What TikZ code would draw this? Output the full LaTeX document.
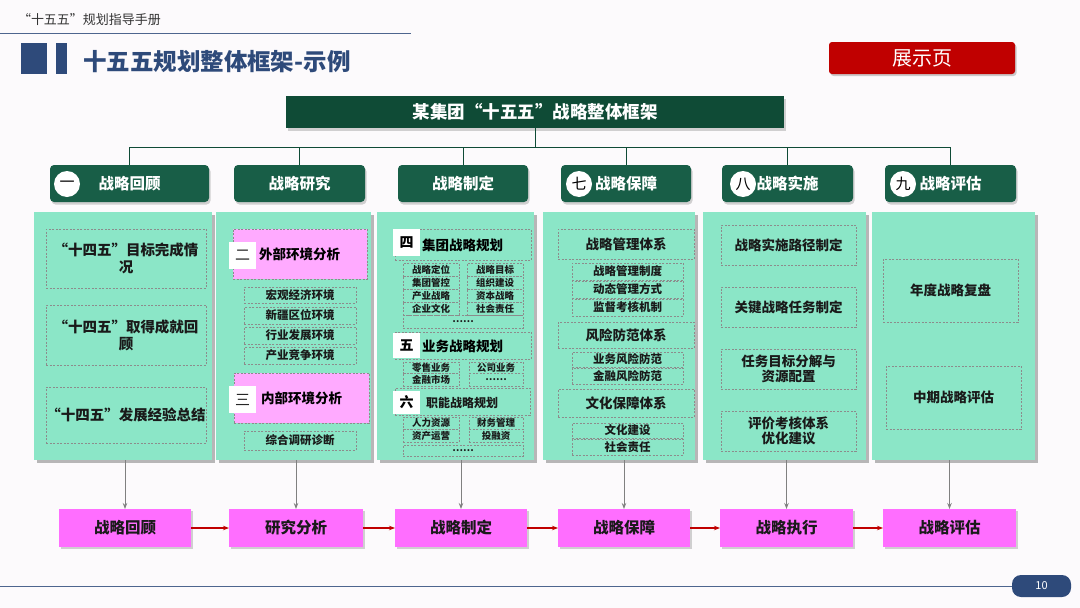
\documentclass[tikz,border=0pt]{standalone}
\usepackage{fontspec}
\setmainfont{Noto Sans CJK SC}
\usetikzlibrary{shadows,arrows.meta}
\definecolor{navy}{HTML}{2E4A7A}
\definecolor{hdr}{HTML}{185E47}
\definecolor{ttl}{HTML}{0F4B36}
\definecolor{pan}{HTML}{8BE6C7}
\definecolor{pk}{HTML}{FFAAFF}
\definecolor{pkb}{HTML}{FF6EFF}
\definecolor{redb}{HTML}{C00000}
\definecolor{txt}{HTML}{1A1A1A}
\definecolor{bg}{HTML}{FCFAFC}
\newcommand\fsz[2]{\fontsize{#1}{#2}\selectfont}
\newcommand\bx[7]{\node[#6, minimum width={(#4-#2)*1pt}, minimum height={(#5-#3)*1pt}] (#1) at ({(#2+#4)/2},{(#3+#5)/2}) {#7};}
\begin{document}
\begin{tikzpicture}[x=1pt,y=-1pt,
  every node/.style={inner sep=0pt, outer sep=0pt, align=center},
  hdrbox/.style={fill=hdr, rounded corners=4pt, drop shadow={opacity=0.35,shadow xshift=1.5pt,shadow yshift=-2.5pt}, text=white, font=\fsz{15.5}{18}\bfseries},
  ttlbox/.style={fill=ttl, drop shadow={opacity=0.35,shadow xshift=1.5pt,shadow yshift=-2.5pt}, text=white, font=\fsz{17.5}{20}\bfseries},
  panel/.style={fill=pan, drop shadow={fill=black!55, opacity=0.5, shadow xshift=2.5pt, shadow yshift=-2.5pt}},
  dbox/.style={draw=black!45, dashed, dash pattern=on 2pt off 1.5pt, line width=0.5pt, text=txt},
  pinkbox/.style={dbox, fill=pk},
  sq/.style={fill=white, text=black, font=\fsz{14}{14}\bfseries},
  sqlight/.style={fill=white, text=black!85, font=\fsz{15}{15}},
  big/.style={font=\fsz{14.5}{17}\bfseries},
  mid/.style={font=\fsz{13.5}{15.5}\bfseries},
  sml/.style={font=\fsz{11.5}{12}\bfseries},
  tiny/.style={font=\fsz{9.5}{10}\bfseries},
  numc/.style={circle, fill=white, text=black, minimum size=26pt, font=\fsz{15}{15}},
  btm/.style={fill=pkb, text=txt, font=\fsz{15.5}{17}\bfseries, drop shadow={opacity=0.35,shadow xshift=1.5pt,shadow yshift=-2pt}},
  tree/.style={draw=ttl, line width=0.9pt},
  garrow/.style={draw=black!50, line width=1pt, -{Stealth[length=6pt,width=4.5pt]}},
  rarrow/.style={draw=redb, line width=1.2pt, -{Stealth[length=6pt,width=4.5pt]}}
]
\useasboundingbox (0,0) rectangle (1080,608);
\fill[bg] (0,0) rectangle (1080,608);

% page header
\node[anchor=west, text=black!80, font=\fsz{13}{13}] (book) at (18,20) {“十五五”规划指导手册};
\coordinate (hl0) at (0,33);
\coordinate (hl1) at (411,33);
\draw[navy!85, line width=1pt] (hl0) -- (hl1);
\bx{sqa}{21}{43}{47}{74}{fill=navy}{}
\bx{sqb}{56}{43}{67}{74}{fill=navy}{}
\node[anchor=west, text=navy, font=\fsz{23.5}{24}\bfseries] (maint) at (83,62) {十五五规划整体框架-示例};
\bx{show}{829}{42}{1015}{74}{fill=redb, rounded corners=3pt, text=white, font=\fsz{20}{20}, drop shadow={opacity=0.4,shadow xshift=1.5pt,shadow yshift=-2pt}}{展示页}

% title and headers
\bx{title}{286}{96}{784}{128}{ttlbox}{某集团“十五五”战略整体框架}
\bx{h1}{50}{165}{209}{202}{hdrbox}{战略回顾}
\bx{h2}{234}{165}{365}{202}{hdrbox}{战略研究}
\bx{h3}{398}{165}{528}{202}{hdrbox}{战略制定}
\bx{h4}{561}{165}{691}{202}{hdrbox}{战略保障}
\bx{h5}{722}{165}{853}{202}{hdrbox}{战略实施}
\bx{h6}{885}{165}{1016}{202}{hdrbox}{战略评估}
\node[numc] (c1) at (67,184) {一};
\node[numc] (c4) at (579,184) {七};
\node[numc] (c5) at (743,184) {八};
\node[numc] (c6) at (903,184) {九};
\foreach \h in {h1,h2,h3,h4,h5,h6}{\draw[tree] (title.south) -- ++(0,19) -| (\h.north);}

% panels
\bx{p1}{34}{212}{212}{460}{panel}{}
\bx{p2}{216}{212}{371}{460}{panel}{}
\bx{p3}{377}{212}{534}{460}{panel}{}
\bx{p4}{543}{212}{695}{460}{panel}{}
\bx{p5}{703}{212}{866}{460}{panel}{}
\bx{p6}{872}{212}{1035}{460}{panel}{}

% panel 1
\bx{a1}{46}{229}{206}{288}{dbox,big}{“十四五”目标完成情\\况}
\bx{a2}{46}{305}{206}{365}{dbox,big}{“十四五”取得成就回\\顾}
\bx{a3}{46}{387}{206}{443}{dbox,big}{“十四五”发展经验总结}

% panel 2
\bx{ext}{233}{229}{367}{279}{pinkbox}{}
\bx{sq2}{229}{242}{256}{269}{sqlight}{二}
\node[anchor=west, mid] (extt) at (259,254) {外部环境分析};
\bx{e1}{244}{287}{356}{303}{dbox,sml}{宏观经济环境}
\bx{e2}{244}{307}{356}{324}{dbox,sml}{新疆区位环境}
\bx{e3}{244}{327}{356}{344}{dbox,sml}{行业发展环境}
\bx{e4}{244}{347}{356}{364}{dbox,sml}{产业竞争环境}
\bx{int}{234}{373}{369}{423}{pinkbox}{}
\bx{sq3}{229}{386}{256}{413}{sqlight}{三}
\node[anchor=west, mid] (intt) at (261,398) {内部环境分析};
\bx{i1}{244}{431}{356}{450}{dbox,sml}{综合调研诊断}

% panel 3
\bx{g4}{395}{229}{531}{260}{dbox}{}
\bx{sq4}{393}{229}{420}{256}{sq}{四}
\node[anchor=west, mid] (g4t) at (422,245) {集团战略规划};
\bx{ga1}{403}{263}{459}{276}{dbox,tiny}{战略定位}
\bx{gb1}{467}{263}{523}{276}{dbox,tiny}{战略目标}
\bx{ga2}{403}{276}{459}{289}{dbox,tiny}{集团管控}
\bx{gb2}{467}{276}{523}{289}{dbox,tiny}{组织建设}
\bx{ga3}{403}{289}{459}{302}{dbox,tiny}{产业战略}
\bx{gb3}{467}{289}{523}{302}{dbox,tiny}{资本战略}
\bx{ga4}{403}{302}{459}{315}{dbox,tiny}{企业文化}
\bx{gb4}{467}{302}{523}{315}{dbox,tiny}{社会责任}
\bx{gd}{403}{315}{523}{328}{dbox,tiny}{……}
\bx{g5}{395}{332}{531}{359}{dbox}{}
\bx{sq5}{393}{333}{420}{358}{sq}{五}
\node[anchor=west, mid] (g5t) at (422,346) {业务战略规划};
\bx{ya1}{403}{362}{459}{373}{dbox,tiny}{零售业务}
\bx{yb1}{469}{362}{523}{373}{dbox,tiny}{公司业务}
\bx{ya2}{403}{373}{459}{386}{dbox,tiny}{金融市场}
\bx{yb2}{469}{373}{523}{386}{dbox,tiny}{……}
\bx{g6}{395}{388}{530}{415}{dbox}{}
\bx{sq6}{393}{391}{420}{414}{sq}{六}
\node[anchor=west, font=\fsz{12}{12}\bfseries, text=txt] (g6t) at (426,403) {职能战略规划};
\bx{za1}{403}{417}{459}{429}{dbox,tiny}{人力资源}
\bx{zb1}{469}{417}{523}{429}{dbox,tiny}{财务管理}
\bx{za2}{403}{429}{459}{442}{dbox,tiny}{资产运营}
\bx{zb2}{469}{429}{523}{442}{dbox,tiny}{投融资}
\bx{zd}{403}{445}{523}{456}{dbox,tiny}{……}

% panel 4
\bx{s1}{558}{229}{694}{259}{dbox,mid}{战略管理体系}
\bx{s11}{572}{263}{683}{280}{dbox,sml}{战略管理制度}
\bx{s12}{572}{281}{683}{298}{dbox,sml}{动态管理方式}
\bx{s13}{572}{299}{683}{316}{dbox,sml}{监督考核机制}
\bx{s2}{558}{322}{694}{348}{dbox,mid}{风险防范体系}
\bx{s21}{572}{352}{683}{367}{dbox,sml}{业务风险防范}
\bx{s22}{572}{368}{683}{384}{dbox,sml}{金融风险防范}
\bx{s3}{558}{389}{694}{417}{dbox,mid}{文化保障体系}
\bx{s31}{572}{423}{683}{438}{dbox,sml}{文化建设}
\bx{s32}{572}{439}{683}{455}{dbox,sml}{社会责任}

% panel 5
\bx{t1}{721}{225}{856}{265}{dbox,mid}{战略实施路径制定}
\bx{t2}{721}{287}{856}{327}{dbox,mid}{关键战略任务制定}
\bx{t3}{721}{349}{856}{389}{dbox,mid}{任务目标分解与\\资源配置}
\bx{t4}{721}{411}{856}{451}{dbox,mid}{评价考核体系\\优化建议}

% panel 6
\bx{v1}{883}{259}{1018}{322}{dbox,mid}{年度战略复盘}
\bx{v2}{886}{366}{1021}{429}{dbox,mid}{中期战略评估}

% bottom flow
\bx{b1}{59}{509}{191}{547}{btm}{战略回顾}
\bx{b2}{229}{509}{363}{547}{btm}{研究分析}
\bx{b3}{395}{509}{527}{547}{btm}{战略制定}
\bx{b4}{558}{509}{690}{547}{btm}{战略保障}
\bx{b5}{720}{509}{853}{547}{btm}{战略执行}
\bx{b6}{883}{509}{1016}{547}{btm}{战略评估}
\foreach \i in {1,...,6}{\draw[garrow] (p\i.south -| b\i.north) -- (b\i.north);}
\draw[rarrow] (b1) -- (b2);
\draw[rarrow] (b2) -- (b3);
\draw[rarrow] (b3) -- (b4);
\draw[rarrow] (b4) -- (b5);
\draw[rarrow] (b5) -- (b6);

% footer
\bx{pg}{1012}{575}{1071}{597}{fill=navy, rounded corners=9pt, text=white, font=\fsz{11}{11}}{10}
\coordinate (fl0) at (0,586);
\draw[navy!85, line width=1pt] (fl0) -- (pg.west);
\end{tikzpicture}
\end{document}
